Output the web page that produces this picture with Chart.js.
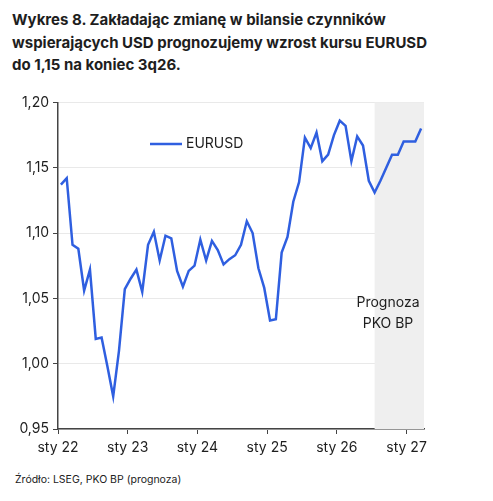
<!DOCTYPE html>
<html>
<head>
<meta charset="utf-8">
<script src="https://cdn.jsdelivr.net/npm/chart.js@4.4.1/dist/chart.umd.min.js"></script>
<style>
    body { margin: 0; background: #fff; width: 493px; height: 501px; position: relative; overflow: hidden; font-family: "Inter", sans-serif; color: #1e1e1e; }
    #title { position: absolute; left: 12px; top: 9px; font-size: 15px; font-weight: 700; line-height: 22.5px; letter-spacing: 0px; }
    #source { position: absolute; left: 15px; top: 473px; font-size: 10.5px; color: #222; }
    #wrap { position: absolute; left: 0; top: 90px; width: 493px; height: 370px; }
</style>
</head>
<body>
<div id="title">Wykres 8. Zakładając zmianę w bilansie czynników<br>wspierających USD prognozujemy wzrost kursu EURUSD<br>do 1,15 na koniec 3q26.</div>
<div id="wrap"><canvas id="eurChart" width="493" height="370"></canvas></div>
<div id="source">Źródło: LSEG, PKO BP (prognoza)</div>
<script>
// monthly EURUSD, sty 22 .. mar 27 (last 8 = forecast)
const eurusd = [
    1.137, 1.142, 1.091, 1.088, 1.056, 1.072, 1.019, 1.020, 0.998, 0.975, 1.010, 1.057,
    1.065, 1.072, 1.055, 1.091, 1.101, 1.079, 1.098, 1.096, 1.071, 1.059, 1.071, 1.075,
    1.095, 1.079, 1.094, 1.087, 1.076, 1.080, 1.083, 1.091, 1.109, 1.100, 1.073, 1.058,
    1.033, 1.034, 1.085, 1.097, 1.124, 1.139, 1.173, 1.165, 1.177, 1.155, 1.160, 1.175,
    1.186, 1.182, 1.155, 1.174, 1.167, 1.140, 1.131, 1.140, 1.150, 1.160, 1.160, 1.170,
    1.170, 1.170, 1.180
];
const forecastFrom = 54;   // index of first forecast month (shaded from here)
const yearTicks = [0, 12, 24, 36, 48, 60];
const yearLabels = ['sty 22', 'sty 23', 'sty 24', 'sty 25', 'sty 26', 'sty 27'];
const yTicks = [0.95, 1.00, 1.05, 1.10, 1.15, 1.20];

const points = [];
for (let i = 0; i < eurusd.length; i++) {
    points.push({ x: i + 0.5, y: eurusd[i] });
}

const txtColor = '#1e1e1e';
const lineColor = '#2f5fe0';

// shaded forecast band + in-chart legend and note
const extras = {
    id: 'extras',
    beforeDatasetsDraw(chart) {
        const ctx = chart.ctx, a = chart.chartArea, xs = chart.scales.x;
        const x0 = xs.getPixelForValue(forecastFrom + 0.5);
        ctx.save();
        ctx.fillStyle = '#efefef';
        ctx.fillRect(x0, a.top, a.right - x0, a.bottom - a.top);
        ctx.restore();
    },
    afterDraw(chart) {
        const ctx = chart.ctx;
        ctx.save();
        // legend
        ctx.strokeStyle = lineColor;
        ctx.lineWidth = 2.5;
        ctx.beginPath();
        ctx.moveTo(150, 144 - 90);
        ctx.lineTo(182, 144 - 90);
        ctx.stroke();
        ctx.fillStyle = txtColor;
        ctx.font = '14px Inter';
        ctx.textBaseline = 'middle';
        ctx.textAlign = 'left';
        ctx.fillText(chart.data.datasets[0].label, 186, 144 - 90);
        // note
        ctx.textAlign = 'center';
        ctx.fillText('Prognoza', 388, 303 - 90);
        ctx.fillText('PKO BP', 388, 324 - 90);
        ctx.restore();
    }
};

const config = {
    type: 'line',
    data: {
        datasets: [{
            label: 'EURUSD',
            data: points,
            borderColor: lineColor,
            borderWidth: 2.5,
            pointRadius: 0,
            tension: 0,
            fill: false
        }]
    },
    options: {
        responsive: false,
        animation: false,
        layout: { padding: { left: 0, right: 69, top: 10, bottom: 0 } },
        plugins: {
            legend: { display: false },
            tooltip: { enabled: false }
        },
        scales: {
            x: {
                type: 'linear',
                min: 0,
                max: 63,
                afterBuildTicks: (s) => { s.ticks = yearTicks.map(v => ({ value: v })); },
                afterFit: (s) => { s.height = 31; },
                grid: { drawOnChartArea: false, drawTicks: true, tickLength: 5, tickColor: '#444' },
                border: { color: '#444', width: 1.5 },
                ticks: {
                    color: txtColor,
                    font: { family: 'Inter', size: 14 },
                    padding: 5,
                    maxRotation: 0,
                    callback: (v) => yearLabels[yearTicks.indexOf(v)]
                }
            },
            y: {
                min: 0.95,
                max: 1.20,
                afterBuildTicks: (s) => { s.ticks = yTicks.map(v => ({ value: v })); },
                afterFit: (s) => { s.width = 58; },
                grid: { color: '#e9e9e9', lineWidth: 1, drawTicks: true, tickLength: 5, tickColor: '#444' },
                border: { color: '#444', width: 1.5 },
                ticks: {
                    color: txtColor,
                    font: { family: 'Inter', size: 14 },
                    padding: 4,
                    callback: (v) => v.toFixed(2).replace('.', ',')
                }
            }
        }
    },
    plugins: [extras]
};

const eurChart = new Chart(document.getElementById('eurChart'), config);
</script>
</body>
</html>
